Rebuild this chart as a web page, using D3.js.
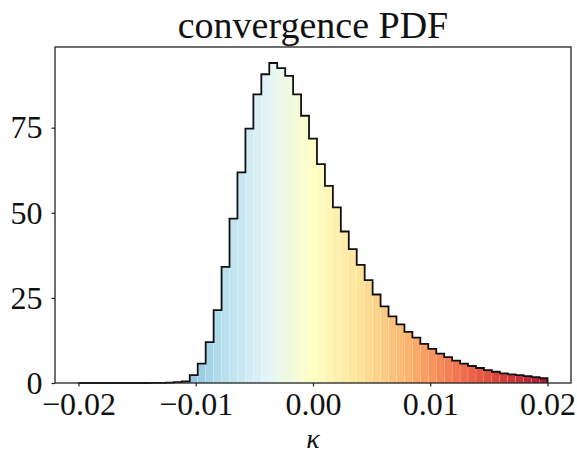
<!DOCTYPE html>
<html>
<head>
<meta charset="utf-8">
<script src="https://cdn.jsdelivr.net/npm/d3@7"></script>
<style>
  body { margin: 0; background: #fff; }
  text { font-family: "Liberation Serif", "DejaVu Serif", serif; fill: #111; }
</style>
</head>
<body>
<div id="chart"></div>
<script>
// histogram definition: 59 bins between binLo and binHi
var binLo = -0.02;
var binHi = 0.02;

// PDF value for each bin (left to right)
var density = [
  0, 0, 0, 0, 0, 0, 0, 0, 0, 0.02,
  0.05, 0.1, 0.25, 0.5, 2.3, 5.7, 12.0, 21.4, 34.1, 48.3,
  61.9, 74.7, 84.8, 90.7, 94.0, 92.5, 90.2, 84.8, 78.5, 71.8,
  64.3, 57.9, 51.6, 44.5, 39.3, 34.7, 30.2, 26.0, 22.5, 19.6,
  17.2, 15.0, 13.3, 11.5, 10.0, 8.6, 7.6, 6.6, 5.7, 5.0,
  4.4, 3.8, 3.3, 2.8, 2.55, 2.3, 2.0, 1.7, 1.4
];

var xTicks = [-0.02, -0.01, 0.00, 0.01, 0.02];
var yTicks = [0, 25, 50, 75];
var titleText = "convergence PDF";
var xLabel = "κ";

// RdYlBu_r, matplotlib style (linear between brewer colours)
var cmapColors = ["#313695", "#4575b4", "#74add1", "#abd9e9", "#e0f3f8", "#ffffbf",
  "#fee090", "#fdae61", "#f46d43", "#d73027", "#a50026"];

// svg dimensions
var svgWidth = 577;
var svgHeight = 456;

var chartMargin = { top: 47, right: 6, bottom: 73, left: 55 };
var width = svgWidth - chartMargin.left - chartMargin.right;
var height = svgHeight - chartMargin.top - chartMargin.bottom;

var svg = d3.select("#chart")
  .append("svg")
  .attr("width", svgWidth)
  .attr("height", svgHeight);

var chartGroup = svg.append("g")
  .attr("transform", `translate(${chartMargin.left}, ${chartMargin.top})`);

// bins
var nBins = density.length;
var step = (binHi - binLo) / nBins;
var bins = density.map(function (d, i) {
  return { x0: binLo + i * step, x1: binLo + (i + 1) * step, v: d };
});

var cmap = d3.piecewise(d3.interpolateRgb, cmapColors);

// scales (5% margins like matplotlib)
var pad = (binHi - binLo) * 0.05;
var x = d3.scaleLinear().domain([binLo - pad, binHi + pad]).range([0, width]);
var y = d3.scaleLinear().domain([0, d3.max(density) * 1.05]).range([height, 0]);

// coloured bars
chartGroup.selectAll(".bar")
  .data(bins)
  .enter()
  .append("rect")
  .attr("class", "bar")
  .attr("x", function (d) { return x(d.x0); })
  .attr("width", function (d) { return x(d.x1) - x(d.x0); })
  .attr("y", function (d) { return y(d.v); })
  .attr("height", function (d) { return y(0) - y(d.v); })
  .attr("fill", function (d) {
    var t = ((d.x0 + d.x1) / 2 - binLo) / (binHi - binLo);
    return cmap(t);
  })
  .attr("fill-opacity", 0.92)
  .attr("stroke", "#fff")
  .attr("stroke-opacity", 0.3)
  .attr("stroke-width", 0.4);

// step outline
var stepPts = [[binLo, 0]];
bins.forEach(function (d) {
  stepPts.push([d.x0, d.v]);
  stepPts.push([d.x1, d.v]);
});
stepPts.push([binHi, 0]);

var stepLine = d3.line()
  .x(function (d) { return x(d[0]); })
  .y(function (d) { return y(d[1]); });

chartGroup.append("path")
  .datum(stepPts)
  .attr("d", stepLine)
  .attr("fill", "none")
  .attr("stroke", "#111")
  .attr("stroke-width", 1.8)
  .attr("stroke-linejoin", "miter");

// axes
var xAxis = d3.axisBottom(x)
  .tickValues(xTicks)
  .tickFormat(d3.format(".2f"))
  .tickSize(3.5)
  .tickPadding(6);

var yAxis = d3.axisLeft(y)
  .tickValues(yTicks)
  .tickFormat(d3.format("d"))
  .tickSize(3.5)
  .tickPadding(9);

var gx = chartGroup.append("g")
  .attr("transform", `translate(0, ${height})`)
  .call(xAxis);
var gy = chartGroup.append("g").call(yAxis);

[gx, gy].forEach(function (g) {
  g.select(".domain").remove();
  g.selectAll(".tick line").attr("stroke", "#222").attr("stroke-width", 1.2);
  g.selectAll(".tick text")
    .style("font-family", "'Liberation Serif', serif")
    .style("font-size", "32px")
    .attr("fill", "#111");
});

// frame
chartGroup.append("rect")
  .attr("x", 0)
  .attr("y", 0)
  .attr("width", width)
  .attr("height", height)
  .attr("fill", "none")
  .attr("stroke", "#222")
  .attr("stroke-width", 1.3);

// title
svg.append("text")
  .attr("x", chartMargin.left + width / 2)
  .attr("y", 38)
  .attr("text-anchor", "middle")
  .style("font-size", "38px")
  .text(titleText);

// x label
svg.append("text")
  .attr("x", chartMargin.left + x(0))
  .attr("y", 448)
  .attr("text-anchor", "middle")
  .style("font-size", "28px")
  .style("font-style", "italic")
  .text(xLabel);
</script>
</body>
</html>
